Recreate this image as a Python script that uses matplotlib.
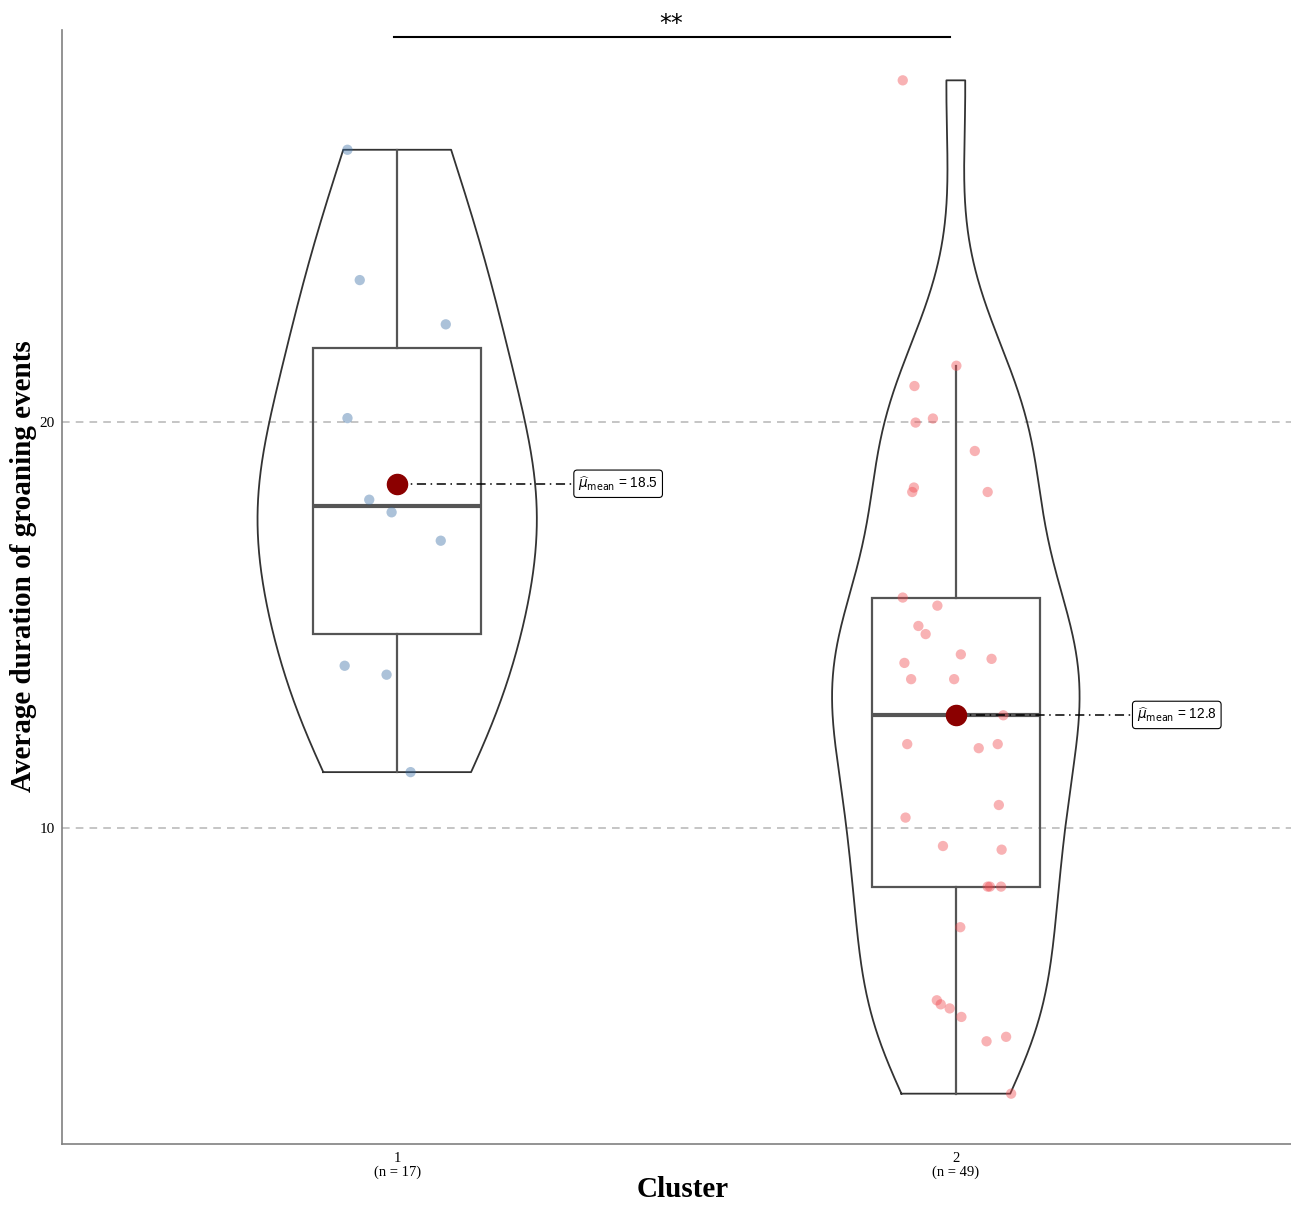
import numpy as np
import matplotlib.pyplot as plt

# values
clusters = ["1", "2"]
n_labels = ["(n = 17)", "(n = 49)"]

c1_vals = [26.71, 23.50, 22.41, 20.10, 18.09, 17.78, 17.08, 14.00, 13.78, 11.38]
c1_jit = [-0.089, -0.067, 0.087, -0.089, -0.050, -0.010, 0.078, -0.094, -0.019, 0.024]

c2_vals = [28.42, 21.39, 20.89, 20.09, 19.99, 19.29, 18.39, 18.28, 18.28,
           15.68, 15.48, 14.98, 14.78, 14.28, 14.17, 14.07, 13.67, 13.67,
           12.78, 12.07, 11.97, 12.07, 10.57, 10.26, 9.56, 9.47, 8.56, 8.56,
           8.56, 7.56, 5.76, 5.66, 5.56, 5.35, 4.75, 4.86, 3.46]
c2_jit = [-0.095, 0.001, -0.074, -0.041, -0.072, 0.034, -0.075, -0.078, 0.057,
          -0.095, -0.033, -0.067, -0.054, 0.009, 0.064, -0.092, -0.080, -0.003,
          0.085, -0.087, 0.041, 0.075, 0.077, -0.090, -0.023, 0.082, 0.057, 0.061,
          0.081, 0.008, -0.034, -0.027, -0.011, 0.010, 0.055, 0.090, 0.099]

groups = [c1_vals, c2_vals]
jitters = [c1_jit, c2_jit]
pt_colors = ["#3A6EA5", "#F0484E"]
signif = "**"

plt.rcParams['font.family'] = ['Liberation Serif', 'DejaVu Serif']

fig = plt.figure(figsize=(12.91, 12.05), dpi=100)
ax = fig.add_axes([62 / 1291, 1 - 1144 / 1205, 1 - 62 / 1291, (1144 - 30) / 1205])


def kde_nrd0(v, grid):
    v = np.asarray(v)
    sd = v.std(ddof=1)
    q75, q25 = np.percentile(v, [75, 25])
    bw = 0.9 * min(sd, (q75 - q25) / 1.34) * len(v) ** -0.2
    z = (grid[:, None] - v[None, :]) / bw
    return np.exp(-0.5 * z ** 2).sum(axis=1) / (len(v) * bw * np.sqrt(2 * np.pi))


grids = [np.linspace(min(g), max(g), 512) for g in groups]
dens = [kde_nrd0(g, gr) for g, gr in zip(groups, grids)]
dmax = max(d.max() for d in dens)

for i, (vals, gr, d) in enumerate(zip(groups, grids, dens)):
    pos = i + 1
    half = 0.25 * d / dmax
    xs = np.concatenate([pos - half, (pos + half)[::-1], [pos - half[0]]])
    ys = np.concatenate([gr, gr[::-1], [gr[0]]])
    ax.plot(xs, ys, color="#333333", lw=1.3, zorder=2)

ax.boxplot(groups, positions=[1, 2], widths=0.3, showfliers=False,
           whis=1.5, showcaps=False, patch_artist=True,
           boxprops=dict(facecolor="none", edgecolor="#555555", lw=1.6),
           whiskerprops=dict(color="#555555", lw=1.6),
           medianprops=dict(color="#555555", lw=3),
           zorder=3)

for i, (vals, jit) in enumerate(zip(groups, jitters)):
    pos = i + 1
    ax.scatter(pos + np.array(jit), vals, s=55, color=pt_colors[i], alpha=0.42,
               edgecolors="none", zorder=4)
    m = np.mean(vals)
    ax.plot([pos, pos + 0.32], [m, m], color="black", lw=1.1, ls=(0, (6, 3, 1, 3)), zorder=4)
    ax.scatter([pos], [m], s=210, color="#8B0000", zorder=5)
    ax.text(pos + 0.324, m, r"$\widehat{\mu}_{\mathrm{mean}}$ = %.1f" % m,
            family=["Liberation Sans", "DejaVu Sans"], fontsize=9.8, ha="left", va="center", zorder=6,
            bbox=dict(boxstyle="round,pad=0.32,rounding_size=0.25", fc="white", ec="black", lw=0.8))

# significance bar
ax.plot([0.995, 1.99], [29.48, 29.48], color="black", lw=1.5, zorder=6)
ax.text(1.49, 29.52, signif, family="DejaVu Sans", fontsize=17, ha="center", va="bottom")

ax.set_xlim(0.4, 2.6)
ax.set_ylim(2.22, 29.66)
ax.set_xticks([1, 2])
ax.set_xticklabels([c + "\n" + n for c, n in zip(clusters, n_labels)], fontsize=10.5, linespacing=1.0)
ax.set_yticks([10, 20])
ax.set_yticklabels(["10", "20"], fontsize=11)
ax.tick_params(axis="x", length=0, pad=6)
ax.tick_params(axis="y", length=0, pad=5)
for y in [10, 20]:
    ax.axhline(y, color="#b5b5b5", lw=1.1, ls=(0, (5, 4)), zorder=1)

for s in ["top", "right"]:
    ax.spines[s].set_visible(False)
for s in ["left", "bottom"]:
    ax.spines[s].set_color("#808080")
    ax.spines[s].set_linewidth(1.2)

ax.set_xlabel("Cluster", fontsize=21, fontweight="bold")
ax.set_ylabel("Average duration of groaning events", fontsize=21, fontweight="bold")
ax.xaxis.set_label_coords(0.505, -0.029)
ax.yaxis.set_label_coords(-0.0205, 0.519)

fig.savefig("out.png", dpi=100)
